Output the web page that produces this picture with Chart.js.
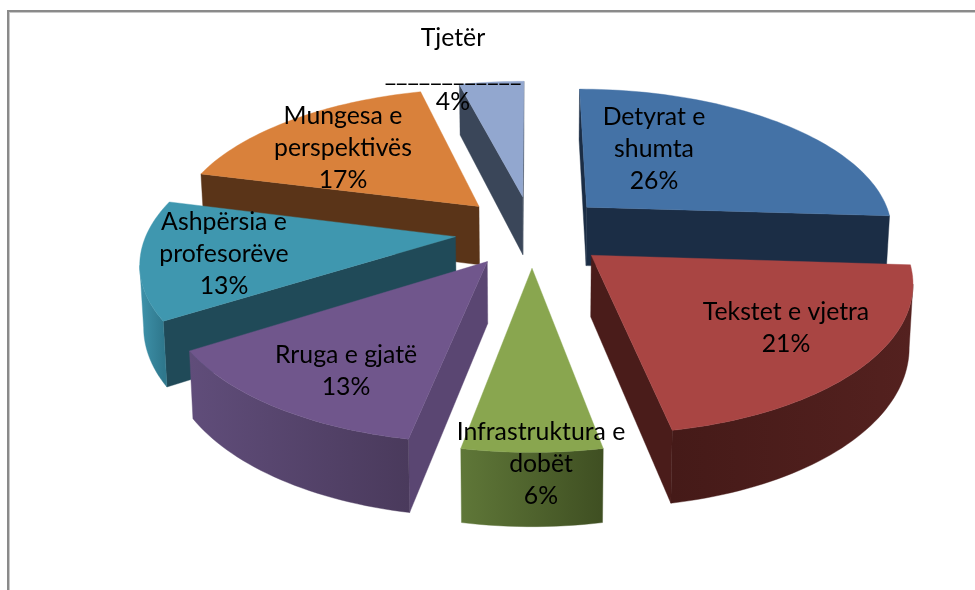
<!DOCTYPE html>
<html><head><meta charset="utf-8">
<script src="https://cdn.jsdelivr.net/npm/chart.js@4"></script>
<style>
html,body{margin:0;padding:0;background:#fff;overflow:hidden}
#frame{position:absolute;left:7px;top:10px;width:975px;height:590px;border-left:2px solid #8a8a8a;border-top:2px solid #8a8a8a;box-shadow:inset 1px 1px 0 #c8c8c8}
canvas{position:absolute;left:0;top:0}
</style></head><body>
<div id="frame"></div>
<canvas id="c" width="975" height="590"></canvas>
<script>
const categories = ["Detyrat e shumta","Tekstet e vjetra","Infrastruktura e dobët","Rruga e gjatë","Ashpërsia e profesorëve","Mungesa e perspektivës","Tjetër"];
const shares = [26,21,6,13,13,17,4];
const topColors = ["#4472a6","#a94543","#89a64f","#70568c","#3f97af","#d9813b","#92a7cf"];
const radialWallColors = ["#1b2d45","#4a1c1a","#4a5c2a","#5a4672","#204a58","#5a3418","#3a4659"];
const outerWallStart = ["#1b2d45","#54211f","#3f4f22","#4a3a5c","#2f788d","#5a3418","#3a4659"];
const outerWallEnd = ["#1b2d45","#451a18","#5f7738","#604d7a","#3f93ab","#5a3418","#3a4659"];
const labelLines = [["Detyrat e","shumta","26%"],["Tekstet e vjetra","21%"],["Infrastruktura e","dobët","6%"],["Rruga e gjatë","13%"],["Ashpërsia e","profesorëve","13%"],["Mungesa e","perspektivës","17%"],["Tjetër","____________","4%"]];
const labelAnchors = [[654,117],[786,312],[541,432],[346,355],[224,222],[343,116],[453,38]];

// Perspective model of the tilted pie plane
const view = {cx:532, cy:231, A:308, B:143, p:0.154, depth:60, converge:0.99, explode:0.25};
function project(u,v){
  const w = 1 - view.p*v;
  return {x:view.cx + view.A*u/w, y:view.cy + view.B*v/w, w};
}
function lower(pt){
  return {x:view.cx+(pt.x-view.cx)*view.converge, y:pt.y+view.depth/pt.w};
}
function poly(ctx,pts,fill){
  ctx.beginPath();
  pts.forEach((q,i)=> i?ctx.lineTo(q.x,q.y):ctx.moveTo(q.x,q.y));
  ctx.closePath();
  ctx.fillStyle=fill; ctx.fill();
  ctx.strokeStyle=fill; ctx.lineWidth=0.4; ctx.stroke();
}
const pie3d = {
  id:'pie3d',
  beforeDatasetsDraw(chart){
    const ctx = chart.ctx, meta = chart.getDatasetMeta(0);
    const slices = meta.data.map((arc,i)=>{
      const {startAngle:s,endAngle:e} = arc.getProps(['startAngle','endAngle'],true);
      return {i,s,e,mid:(s+e)/2};
    }).sort((a,b)=>Math.sin(a.mid)-Math.sin(b.mid));
    ctx.save();
    for(const sl of slices){
      const ox=view.explode*Math.cos(sl.mid), oy=view.explode*Math.sin(sl.mid);
      const apex=project(ox,oy), rim=[];
      const n=Math.max(8,Math.round((sl.e-sl.s)*40));
      for(let k=0;k<=n;k++){
        const a=sl.s+(sl.e-sl.s)*k/n;
        rim.push(project(ox+Math.cos(a),oy+Math.sin(a)));
      }
      const first=rim[0], last=rim[n];
      // radial walls
      if(first.x<apex.x) poly(ctx,[apex,first,lower(first),lower(apex)],radialWallColors[sl.i]);
      if(apex.x<last.x) poly(ctx,[last,apex,lower(apex),lower(last)],radialWallColors[sl.i]);
      // outer curved wall: only the runs facing the viewer
      let run=[];
      const flush=()=>{
        if(run.length>1){
          const xs=run.map(q=>q.x), g=ctx.createLinearGradient(Math.min(...xs),0,Math.max(...xs),0);
          g.addColorStop(0,outerWallEnd[sl.i]); g.addColorStop(1,outerWallStart[sl.i]);
          poly(ctx,run.concat(run.slice().reverse().map(lower)),g);
        }
        run=[];
      };
      for(let k=0;k<n;k++){
        if(rim[k+1].x<rim[k].x){ if(!run.length) run.push(rim[k]); run.push(rim[k+1]); }
        else flush();
      }
      flush();
      poly(ctx,[apex,...rim],topColors[sl.i]);
    }
    ctx.restore();
    return false;
  },
  afterDraw(chart){
    const ctx=chart.ctx;
    ctx.save();
    ctx.fillStyle="#000"; ctx.font='24.8px Lato'; ctx.textAlign='center'; ctx.textBaseline='middle';
    labelLines.forEach((lines,i)=>{
      lines.forEach((t,j)=>{ ctx.fillText(t,labelAnchors[i][0],labelAnchors[i][1]+j*32.2+(t[0]==='_'?3:0)); });
    });
    ctx.restore();
  }
};
new Chart(document.getElementById('c'),{
  type:'pie',
  data:{labels:categories,datasets:[{data:shares,backgroundColor:topColors,borderWidth:0}]},
  options:{responsive:false,animation:false,events:[],plugins:{legend:{display:false},tooltip:{enabled:false}}},
  plugins:[pie3d]
});
</script>
</body></html>
